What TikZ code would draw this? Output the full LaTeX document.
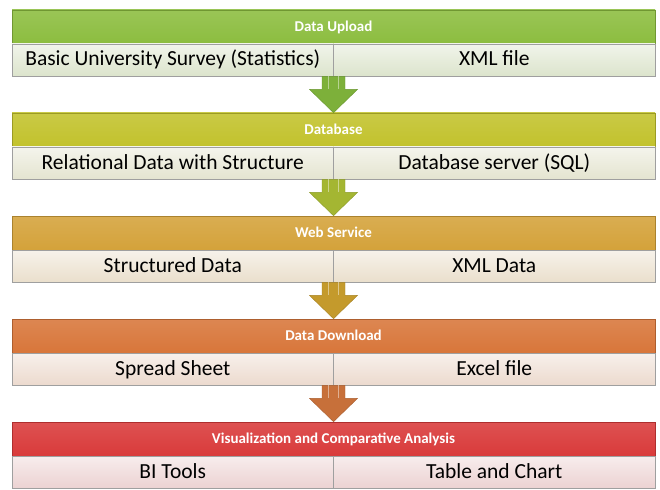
\documentclass[tikz,border=0pt]{standalone}
\usepackage{fontspec}
\setmainfont{Carlito}
\usetikzlibrary{calc}
\definecolor{hA}{HTML}{8CBD3F}
\definecolor{hB}{HTML}{C2C22C}
\definecolor{hC}{HTML}{D4A23A}
\definecolor{hD}{HTML}{D8763A}
\definecolor{hE}{HTML}{D93A3A}
\definecolor{sA}{HTML}{DCE4CC}
\definecolor{sB}{HTML}{E4E4D0}
\definecolor{sC}{HTML}{EADFCC}
\definecolor{sD}{HTML}{ECDACE}
\definecolor{sE}{HTML}{ECD2D2}
\definecolor{aA}{HTML}{7DB03A}
\definecolor{aB}{HTML}{A4B632}
\definecolor{aC}{HTML}{C49A2C}
\definecolor{aD}{HTML}{C7703A}
\tikzset{
  hdr/.style={draw=#1!80!black, line width=0.6pt, minimum width=643pt, minimum height=34pt,
    inner sep=0pt, text=white, font=\fontsize{15}{15}\selectfont\bfseries,
    text height=11pt, text depth=2pt,
    top color=#1!88!white, bottom color=#1},
  cell/.style={draw=gray!75, line width=0.8pt, minimum width=321.5pt, minimum height=32pt,
    inner sep=0pt, text=black, font=\fontsize{21.5}{21.5}\selectfont,
    text height=15.5pt, text depth=3.5pt,
    top color=#1!40!white, bottom color=#1},
  blockarrow/.style={fill=#1, draw=#1!85!black, line width=0.4pt},
  stripe/.style={draw=white, opacity=0.45, line width=1.2pt}
}
\newcommand\flowarrow[4]{% #1 header above, #2 cell above, #3 header below, #4 colour
  \path[blockarrow=#4] let \p1=(#1.south), \p2=(#2.south), \p3=(#3.north) in
    (\x1-11.5pt,\y2) -- (\x1+11.5pt,\y2) -- (\x1+11.5pt,\y2-13pt) -- (\x1+24pt,\y2-13pt)
    -- (\x1,\y3) -- (\x1-24pt,\y2-13pt) -- (\x1-11.5pt,\y2-13pt) -- cycle;
  \path[stripe] let \p1=(#1.south), \p2=(#2.south) in
    (\x1-5pt,\y2) -- (\x1-5pt,\y2-13pt) (\x1+5pt,\y2) -- (\x1+5pt,\y2-13pt);
}
\begin{document}
\begin{tikzpicture}[x=1pt,y=-1pt]
\useasboundingbox[fill=white] (0,0) rectangle (660,489);
% band 1
\node[hdr=hA] (h1) at (333.5,27) {Data Upload};
\node[cell=sA] (l1) at (172.75,60) {Basic University Survey (Statistics)};
\node[cell=sA] (r1) at (494.25,60) {XML file};
% band 2
\node[hdr=hB] (h2) at (333.5,130) {Database};
\node[cell=sB] (l2) at (172.75,163) {Relational Data with Structure};
\node[cell=sB] (r2) at (494.25,163) {Database server (SQL)};
% band 3
\node[hdr=hC] (h3) at (333.5,233) {Web Service};
\node[cell=sC] (l3) at (172.75,266) {Structured Data};
\node[cell=sC] (r3) at (494.25,266) {XML Data};
% band 4
\node[hdr=hD] (h4) at (333.5,336) {Data Download};
\node[cell=sD] (l4) at (172.75,369) {Spread Sheet};
\node[cell=sD] (r4) at (494.25,369) {Excel file};
% band 5
\node[hdr=hE] (h5) at (333.5,439) {Visualization and Comparative Analysis};
\node[cell=sE] (l5) at (172.75,472) {BI Tools};
\node[cell=sE] (r5) at (494.25,472) {Table and Chart};
% arrows
\flowarrow{h1}{l1}{h2}{aA}
\flowarrow{h2}{l2}{h3}{aB}
\flowarrow{h3}{l3}{h4}{aC}
\flowarrow{h4}{l4}{h5}{aD}
\end{tikzpicture}
\end{document}
